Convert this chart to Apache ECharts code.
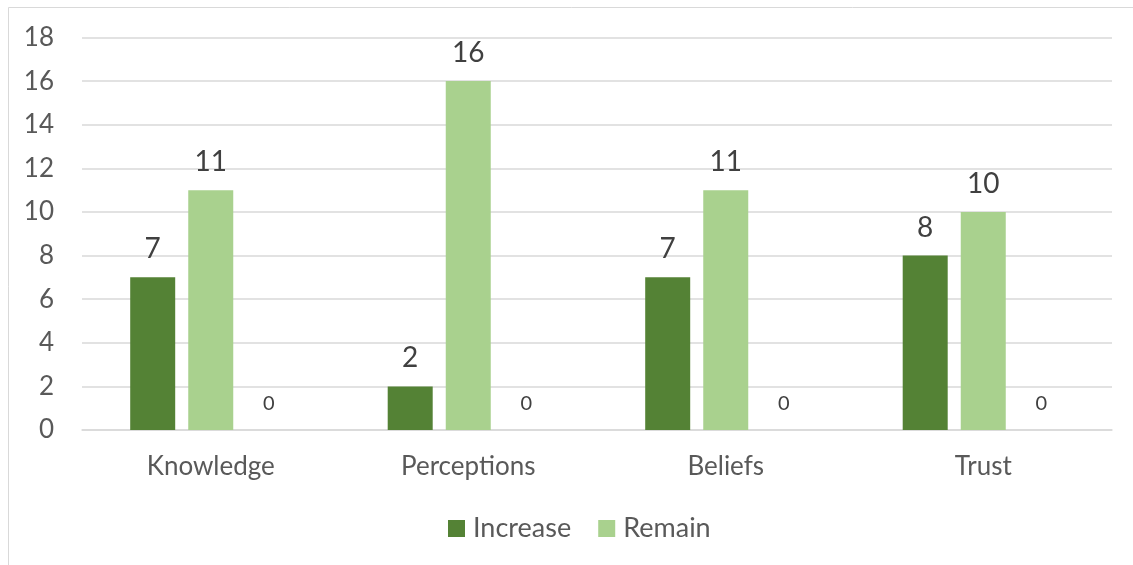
<!DOCTYPE html>
<html>
<head>
<meta charset="utf-8">
<script src="https://cdn.jsdelivr.net/npm/echarts@6/dist/echarts.min.js"></script>
<style>
  html, body { margin: 0; padding: 0; background: #fff; }
  #chart { width: 1133px; height: 565px; }
</style>
</head>
<body>
<div id="chart"></div>
<script>
// Survey outcome counts per topic
const categories = ['Knowledge', 'Perceptions', 'Beliefs', 'Trust'];
const increaseValues = [7, 2, 7, 8];
const remainValues = [11, 16, 11, 10];
const decreaseValues = [0, 0, 0, 0];
const yTicks = { min: 0, max: 18, interval: 2 };

const FONT = 'Lato, "Open Sans", sans-serif';
const chart = echarts.init(document.getElementById('chart'), null, { renderer: 'canvas' });

const bigLabel = {
  show: true, position: 'top', distance: 14,
  color: '#404040', fontSize: 28, fontFamily: FONT
};

chart.setOption({
  animation: false,
  backgroundColor: '#ffffff',
  graphic: [{
    type: 'rect', silent: true,
    shape: { x: 8.5, y: 7.5, width: 1140, height: 570 },
    style: { fill: 'none', stroke: '#d9d9d9', lineWidth: 1 }
  }],
  grid: { left: 82, right: 21, top: 37.5, bottom: 135, containLabel: false },
  legend: {
    data: ['Increase', 'Remain'],
    bottom: 18, left: 443,
    itemWidth: 17, itemHeight: 17, itemGap: 27,
    icon: 'rect',
    textStyle: { color: '#595959', fontSize: 27, fontFamily: FONT, padding: [0, 0, 0, 3] }
  },
  xAxis: {
    type: 'category',
    data: categories,
    axisLine: { lineStyle: { color: '#d9d9d9', width: 1.5 } },
    axisTick: { show: false },
    axisLabel: { color: '#595959', fontSize: 26, fontFamily: FONT, margin: 24 }
  },
  yAxis: {
    type: 'value',
    min: yTicks.min, max: yTicks.max, interval: yTicks.interval,
    axisLine: { show: false },
    axisTick: { show: false },
    splitLine: { lineStyle: { color: '#d9d9d9', width: 1.5 } },
    axisLabel: { color: '#595959', fontSize: 26, fontFamily: FONT, margin: 28 }
  },
  series: [
    {
      name: 'Increase', type: 'bar', data: increaseValues,
      itemStyle: { color: '#548235' },
      barWidth: 45, barGap: '29%', barCategoryGap: '37.5%',
      label: bigLabel
    },
    {
      name: 'Remain', type: 'bar', data: remainValues,
      itemStyle: { color: '#A9D18E' },
      barWidth: 45, barGap: '29%',
      label: bigLabel
    },
    {
      name: 'Decrease', type: 'bar', data: decreaseValues,
      itemStyle: { color: '#385723' },
      barWidth: 45, barGap: '29%',
      label: {
        show: true, position: 'top', distance: 16,
        color: '#404040', fontSize: 20, fontFamily: FONT
      }
    }
  ]
});
</script>
</body>
</html>
